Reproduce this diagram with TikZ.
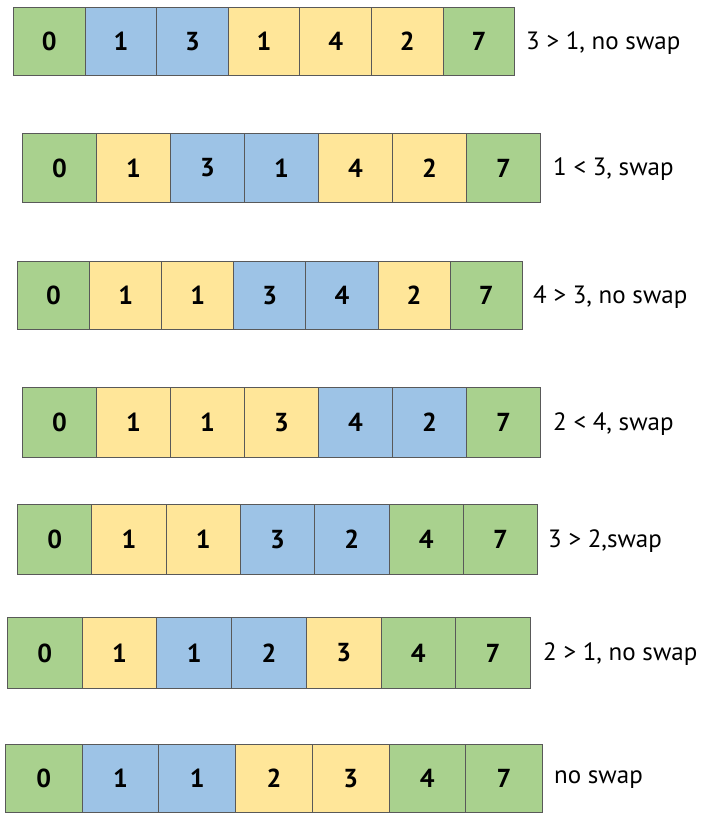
\documentclass[tikz,border=0pt]{standalone}
\usepackage{fontspec}
\setmainfont{PT Sans}
\definecolor{boxG}{HTML}{A9D18E}
\definecolor{boxB}{HTML}{9DC3E6}
\definecolor{boxY}{HTML}{FFE699}
\definecolor{edge}{HTML}{595959}

\begin{document}
\begin{tikzpicture}[x=1pt, y=-1pt,
    cell/.style={draw=edge, line width=1pt, inner sep=0pt, anchor=north west,
      font=\bfseries\fontsize{26}{26}\selectfont},
    passlabel/.style={anchor=west, inner sep=0pt, font=\fontsize{25}{25}\selectfont}]
    \useasboundingbox (0,0) rectangle (707,814);
    % one row for each comparison step
    \foreach \r/\lft/\tp/\bt/\cw/\cells/\lab/\lx in {
        1/13/7/75/71.6/{0/G,1/B,3/B,1/Y,4/Y,2/Y,7/G}/{3 > 1, no swap}/526,
        2/22/133/202/74/{0/G,1/Y,3/B,1/B,4/Y,2/Y,7/G}/{1 < 3, swap}/553,
        3/17/261/329/72.1/{0/G,1/Y,1/Y,3/B,4/B,2/Y,7/G}/{4 > 3, no swap}/533,
        4/22/387/457/74/{0/G,1/Y,1/Y,3/Y,4/B,2/B,7/G}/{2 < 4, swap}/553,
        5/17/504/574/74.3/{0/G,1/Y,1/Y,3/B,2/B,4/G,7/G}/{3 > 2,swap}/548,
        6/7/617/688/74.7/{0/G,1/Y,1/B,2/B,3/Y,4/G,7/G}/{2 > 1, no swap}/543,
        7/5/744/812/76.7/{0/G,1/B,1/B,2/Y,3/Y,4/G,7/G}/{no swap}/554}{
      \pgfmathsetmacro\rowh{\bt-\tp}
      \foreach \v/\c [count=\i from 0] in \cells
        \node[cell, fill=box\c, minimum width=\cw pt, minimum height=\rowh pt]
          (c\r-\i) at ({\lft+\i*\cw},\tp) {\v};
      \node[passlabel] (lab\r) at (\lx,{(\tp+\bt)/2+2}) {\lab};
    }
\end{tikzpicture}
\end{document}
